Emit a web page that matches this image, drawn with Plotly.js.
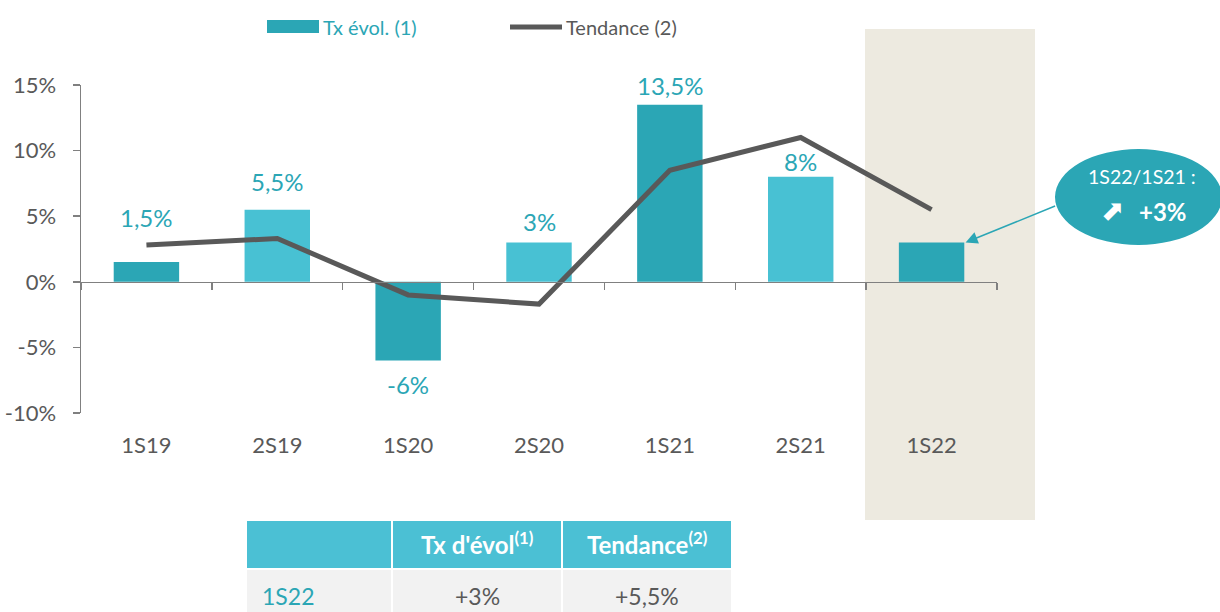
<!DOCTYPE html>
<html>
<head>
<meta charset="utf-8">
<script src="https://cdn.plot.ly/plotly-3.0.1.min.js"></script>
<style>html,body{margin:0;padding:0;background:#fff;}#chart{width:1220px;height:612px;}</style>
</head>
<body>
<div id="chart"></div>
<script>
// ---- data ----
const categories = ['1S19', '2S19', '1S20', '2S20', '1S21', '2S21', '1S22'];
const txEvol = [1.5, 5.5, -6, 3, 13.5, 8, 3];
const tendance = [2.8, 3.3, -1.0, -1.7, 8.5, 11.0, 5.5];
const barLabels = ['1,5%', '5,5%', '-6%', '3%', '13,5%', '8%', ''];
const yTickVals = [-10, -5, 0, 5, 10, 15];
const yTickText = ['-10%', '-5%', '0%', '5%', '10%', '15%'];
const seriesNames = ['Tx évol. (1)', 'Tendance (2)'];
const tableHeader = ['', "Tx d'évol<sup>(1)</sup>", 'Tendance<sup>(2)</sup>'];
const tableRow = ['1S22', '+3%', '+5,5%'];
const calloutTitle = '1S22/1S21 :';
const calloutValue = '+3%';
const highlightCategory = '1S22';

// ---- styles ----
const W = 1220, H = 612;
const FONT = 'Lato, "Open Sans", sans-serif';
const DARK = '#2BA6B5', LIGHT = '#48C1D3', GREY = '#595959', AXIS = '#808080';
const HEAD = '#4BC0D4', BODY = '#F2F2F2';
const barColors = [DARK, LIGHT, DARK, LIGHT, DARK, LIGHT, DARK];
const labelShift = [45, 28, -24, 21, 19, 15, 0];
const px = v => v / W;           // pixel -> paper x
const py = v => (H - v) / H;     // pixel -> paper y

const plotL = 81, plotR = 997, plotT = 85, plotB = 413;
const yDom = [py(plotB), py(plotT)];
const zeroPos = yDom[0] + (0 - (-10)) / 25 * (yDom[1] - yDom[0]);

// table geometry (pixels)
const colEdges = [[247, 391], [393, 561], [563, 731]];
const headRow = [521, 568], bodyRow = [570, 620];

const traces = [
  {
    type: 'bar', name: seriesNames[0], x: categories, y: txEvol,
    marker: {color: barColors}, width: 0.5, xaxis: 'x', yaxis: 'y',
    hoverinfo: 'x+y', showlegend: false
  },
  {
    type: 'scatter', mode: 'lines', name: seriesNames[1], x: categories, y: tendance,
    line: {color: GREY, width: 5}, xaxis: 'x2', yaxis: 'y', showlegend: false
  }
];

const annotations = [];
categories.forEach((c, i) => {
  if (!barLabels[i]) return;
  annotations.push({
    x: i, y: txEvol[i], xref: 'x', yref: 'y', text: barLabels[i],
    showarrow: false, yanchor: 'middle', yshift: labelShift[i],
    font: {family: FONT, size: 24, color: DARK}
  });
});
// legend (drawn manually)
annotations.push({xref: 'paper', yref: 'paper', x: px(321), y: py(27), xanchor: 'left', yanchor: 'middle',
  text: seriesNames[0], showarrow: false, font: {family: FONT, size: 20, color: DARK}});
annotations.push({xref: 'paper', yref: 'paper', x: px(564), y: py(27), xanchor: 'left', yanchor: 'middle',
  text: seriesNames[1], showarrow: false, font: {family: FONT, size: 20, color: GREY}});
// callout
const hi = categories.indexOf(highlightCategory);
annotations.push({xref: 'x', yref: 'y', x: hi + 0.26, y: txEvol[hi], ax: 91, ay: -37, axref: 'pixel', ayref: 'pixel',
  text: '', showarrow: true, arrowhead: 2, arrowsize: 1.6, arrowwidth: 1.5, arrowcolor: DARK});
annotations.push({xref: 'paper', yref: 'paper', x: px(1142), y: py(177), xanchor: 'center', yanchor: 'middle',
  text: calloutTitle, showarrow: false, font: {family: FONT, size: 19.5, color: '#ffffff'}});
annotations.push({xref: 'paper', yref: 'paper', x: px(1112), y: py(210), xanchor: 'center', yanchor: 'middle',
  text: '⬈', showarrow: false, font: {family: 'DejaVu Sans', size: 28, color: '#ffffff'}});
annotations.push({xref: 'paper', yref: 'paper', x: px(1137), y: py(211), xanchor: 'left', yanchor: 'middle',
  text: '<b>' + calloutValue + '</b>', showarrow: false, font: {family: FONT, size: 24, color: '#ffffff'}});

// table text
tableHeader.forEach((t, j) => {
  if (!t) return;
  const [a, b] = colEdges[j];
  annotations.push({xref: 'paper', yref: 'paper', x: px((a + b) / 2), y: py(543), xanchor: 'center', yanchor: 'middle',
    text: '<b>' + t + '</b>', showarrow: false, font: {family: FONT, size: 24, color: '#ffffff'}});
});
tableRow.forEach((t, j) => {
  const [a, b] = colEdges[j];
  const left = j === 0;
  annotations.push({xref: 'paper', yref: 'paper', x: px(left ? a + 13 : (a + b) / 2), y: py(596),
    xanchor: left ? 'left' : 'center', yanchor: 'middle',
    text: t, showarrow: false, font: {family: FONT, size: 23, color: left ? DARK : GREY}});
});

const shapes = [
  {type: 'rect', xref: 'paper', yref: 'paper', x0: px(865), x1: px(1035), y0: py(520), y1: py(29),
   fillcolor: '#EDEAE0', line: {width: 0}, layer: 'below'},
  {type: 'rect', xref: 'paper', yref: 'paper', x0: px(267), x1: px(319), y0: py(33), y1: py(20),
   fillcolor: DARK, line: {width: 0}},
  {type: 'line', xref: 'paper', yref: 'paper', x0: px(510), x1: px(562), y0: py(27), y1: py(27),
   line: {color: GREY, width: 5}},
  {type: 'circle', xref: 'paper', yref: 'paper', x0: px(1055), x1: px(1222), y0: py(245), y1: py(149),
   fillcolor: DARK, line: {width: 0}}
];
colEdges.forEach(([a, b]) => {
  shapes.push({type: 'rect', xref: 'paper', yref: 'paper', x0: px(a), x1: px(b), y0: py(headRow[1]), y1: py(headRow[0]),
    fillcolor: HEAD, line: {width: 0}});
  shapes.push({type: 'rect', xref: 'paper', yref: 'paper', x0: px(a), x1: px(b), y0: py(bodyRow[1]), y1: py(bodyRow[0]),
    fillcolor: BODY, line: {width: 0}});
});

const layout = {
  width: W, height: H,
  margin: {l: 0, r: 0, t: 0, b: 0},
  paper_bgcolor: '#ffffff', plot_bgcolor: 'rgba(0,0,0,0)',
  font: {family: FONT, color: GREY},
  showlegend: false,
  bargap: 0.5,
  xaxis: {
    type: 'category', domain: [px(plotL), px(plotR)], range: [-0.5, 6.5], anchor: 'y',
    showline: false, showgrid: false, zeroline: false, ticks: '',
    ticklabelstandoff: 17,
    tickfont: {family: FONT, size: 22, color: GREY}
  },
  xaxis2: {
    type: 'category', overlaying: 'x', anchor: 'free', position: zeroPos, range: [-0.5, 6.5],
    domain: [px(plotL), px(plotR)],
    showline: true, linecolor: AXIS, linewidth: 1.5, showgrid: false, zeroline: false,
    ticks: 'outside', tickson: 'boundaries', ticklen: 7, tickcolor: AXIS, tickwidth: 1.5,
    showticklabels: false
  },
  yaxis: {
    domain: yDom, range: [-10, 15], tickvals: yTickVals, ticktext: yTickText,
    showline: true, linecolor: AXIS, linewidth: 1.5, ticks: 'outside', ticklen: 7,
    tickcolor: AXIS, tickwidth: 1.5, showgrid: false, zeroline: false,
    ticklabelstandoff: 12,
    tickfont: {family: FONT, size: 22, color: GREY}
  },
  shapes: shapes,
  annotations: annotations
};

Plotly.newPlot('chart', traces, layout, {displayModeBar: false, staticPlot: true});
</script>
</body>
</html>
